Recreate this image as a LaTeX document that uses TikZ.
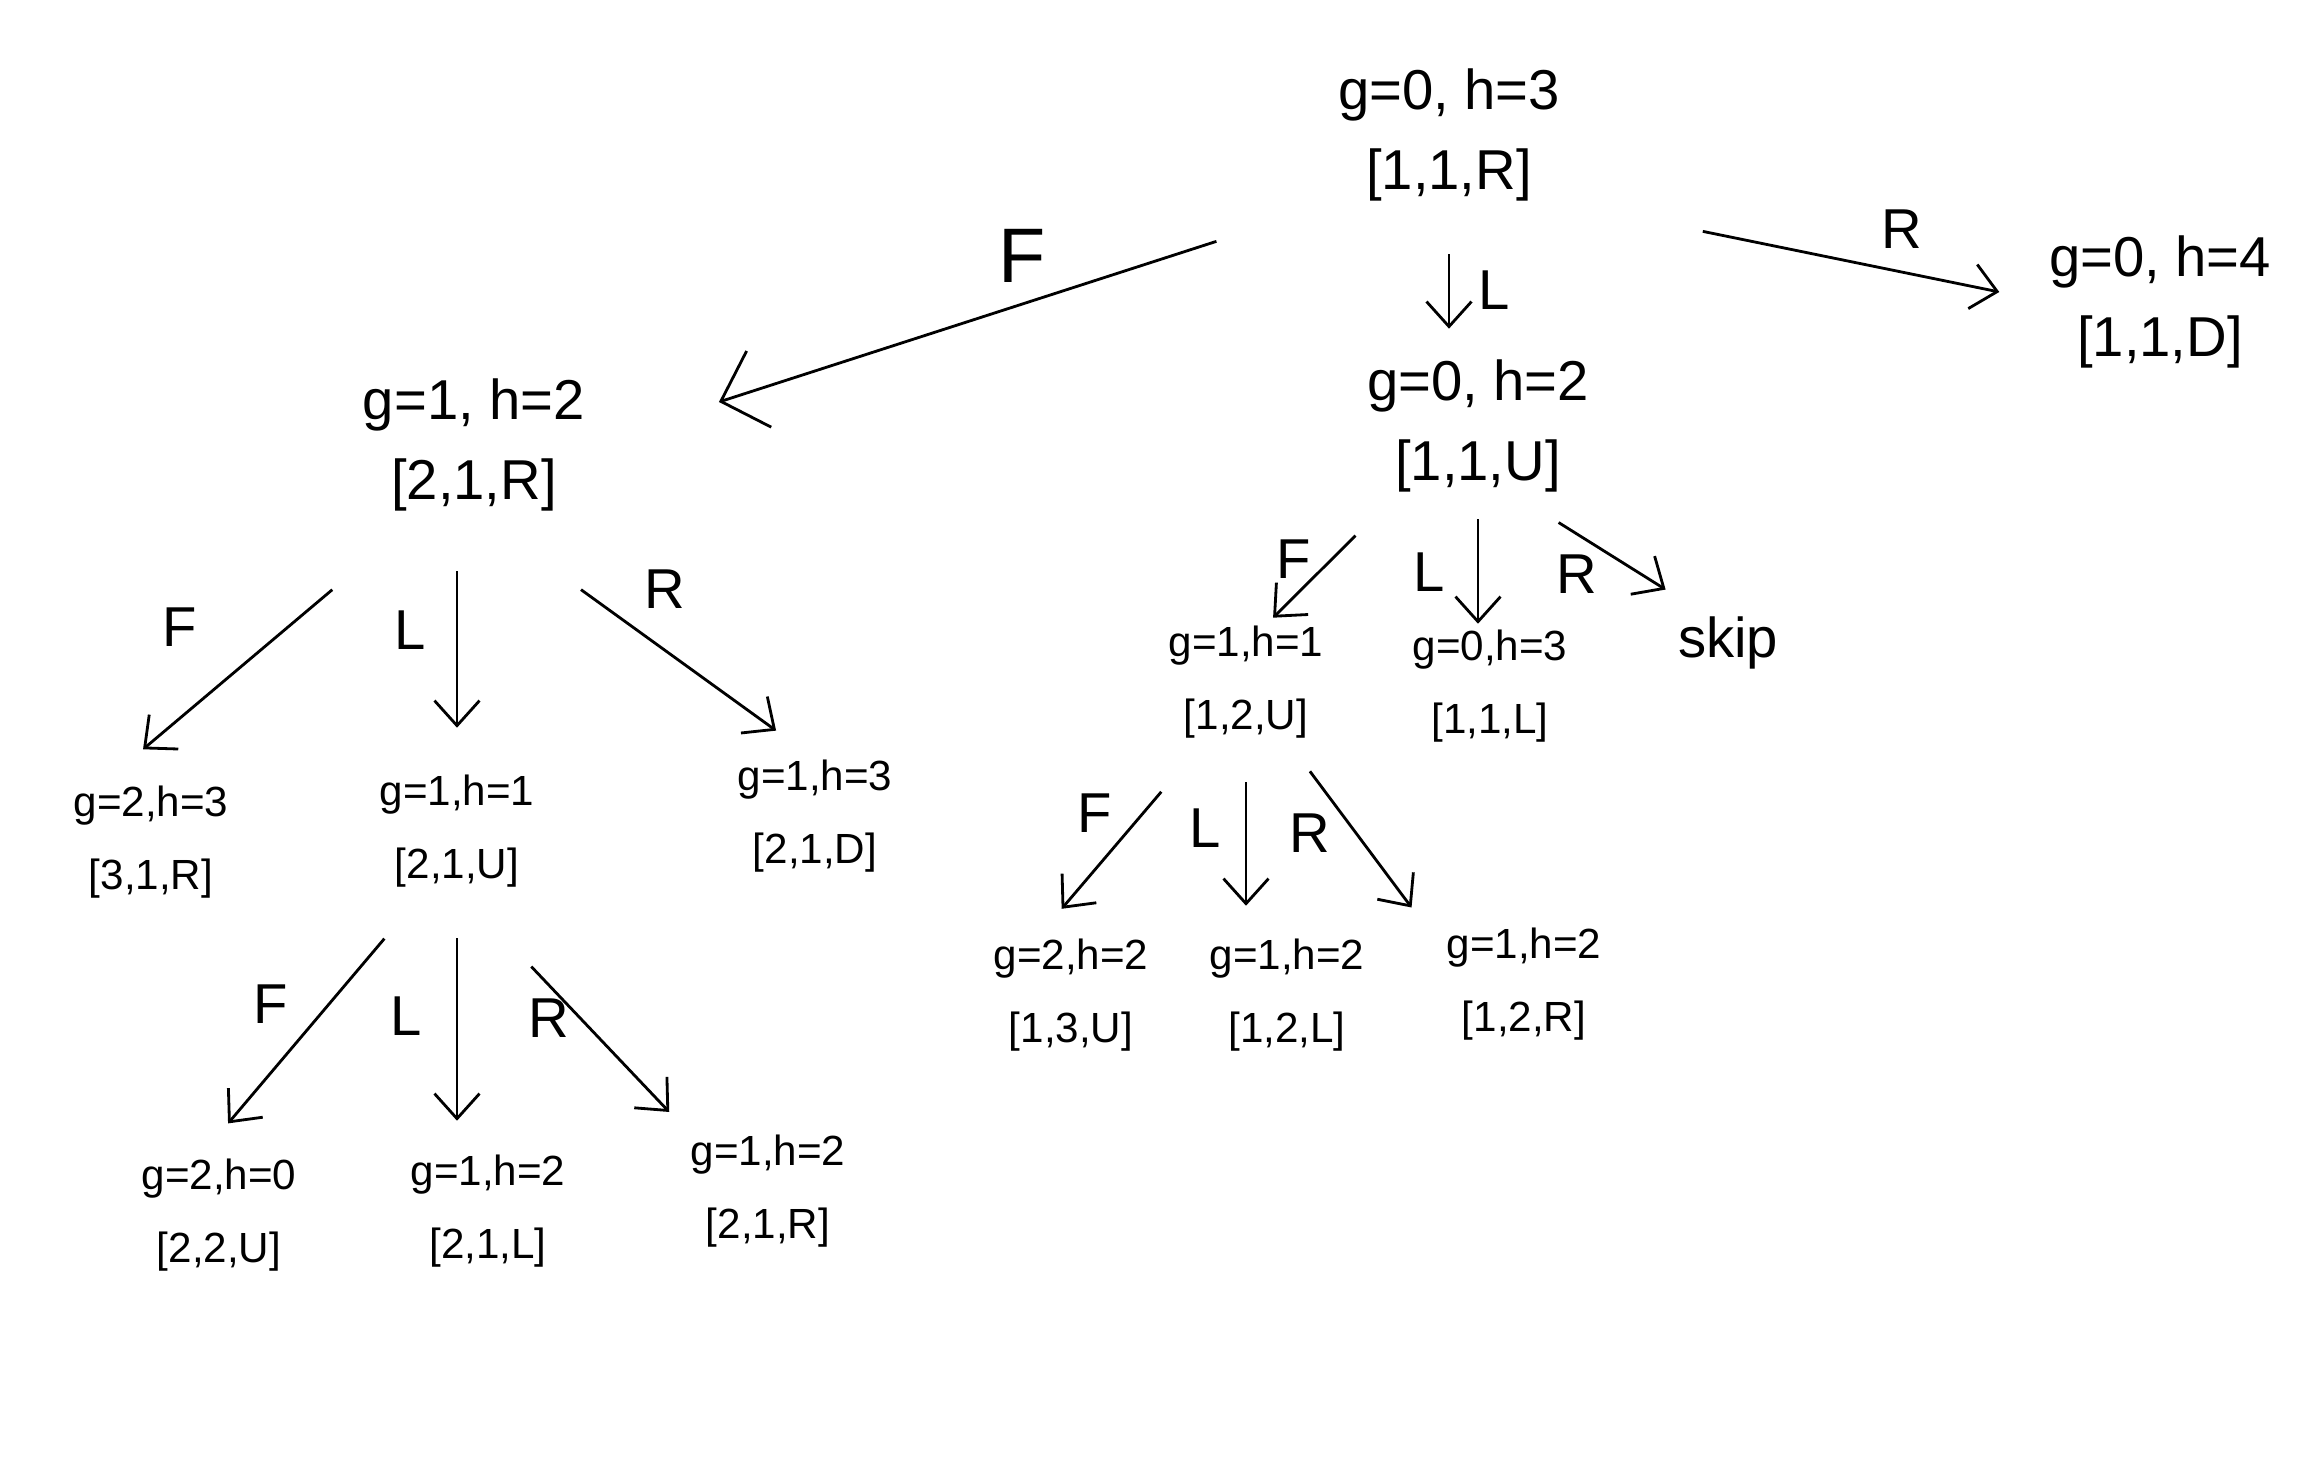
\documentclass[tikz,border=0pt]{standalone}
\usepackage{fontspec}
\setmainfont{Liberation Sans}
\usepackage{tikz}
\usetikzlibrary{positioning}
\usetikzlibrary{arrows.meta}

\begin{document}
\begin{tikzpicture}[
        every node/.style={inner sep=0pt},
        state/.style={align=center, font=\fontsize{16}{23}\selectfont},
        leaf/.style={align=center, font=\fontsize{12}{21}\selectfont},
        lbl/.style={font=\fontsize{16}{16}\selectfont},
        edge/.style={-{Straight Barb[length=2.5mm,width=4.5mm]}, line width=0.8pt}]
        \useasboundingbox (0,0) rectangle (23.06,-14.84);

        % start and its three moves
        \node[state] (root) at (14.49,-1.35) {g=0, h=3\\{}[1,1,R]};
        \node[state] (rootR) at (21.60,-3.02) {g=0, h=4\\{}[1,1,D]};
        \node[state] (rootL) at (14.78,-4.26) {g=0, h=2\\{}[1,1,U]};
        \node[state] (rootF) at (4.74,-4.45) {g=1, h=2\\{}[2,1,R]};

        % below the forward move
        \node[leaf] (fF) at (1.51,-8.42) {g=2,h=3\\{}[3,1,R]};
        \node[leaf] (fL) at (4.57,-8.31) {g=1,h=1\\{}[2,1,U]};
        \node[leaf] (fR) at (8.15,-8.16) {g=1,h=3\\{}[2,1,D]};
        \node[leaf] (fLF) at (2.19,-12.15) {g=2,h=0\\{}[2,2,U]};
        \node[leaf] (fLL) at (4.88,-12.11) {g=1,h=2\\{}[2,1,L]};
        \node[leaf] (fLR) at (7.68,-11.91) {g=1,h=2\\{}[2,1,R]};

        % below the left turn
        \node[leaf] (lF) at (12.46,-6.82) {g=1,h=1\\{}[1,2,U]};
        \node[leaf] (lL) at (14.90,-6.86) {g=0,h=3\\{}[1,1,L]};
        \node[state] (lR) at (17.28,-6.43) {skip};
        \node[leaf] (lFF) at (10.71,-9.95) {g=2,h=2\\{}[1,3,U]};
        \node[leaf] (lFL) at (12.87,-9.95) {g=1,h=2\\{}[1,2,L]};
        \node[leaf] (lFR) at (15.24,-9.84) {g=1,h=2\\{}[1,2,R]};

        \draw[edge, -{Straight Barb[length=4mm,width=8mm]}, shorten <=1.27cm, shorten >=1.4cm] (root.south west) --
            node[lbl, font=\fontsize{22}{22}\selectfont, pos=.42, above=2mm] {F} (rootF.east);
        \draw[edge, shorten <=0.52cm, shorten >=0.3cm] (root.south) --
            node[lbl, pos=.56, right=2.8mm] {L} (root.south |- rootL.north);
        \draw[edge, shorten <=1.45cm, shorten >=0.5cm] (root.south east) --
            node[lbl, pos=.7, above=2.2mm] {R} (rootR.west);

        \draw[edge, shorten <=0.6cm, shorten >=0.1cm] ([xshift=-8mm]rootL.south) --
            node[lbl, pos=.5, left=2mm] {F} ([xshift=2mm]lF.north);
        \draw[edge, shorten <=0.26cm, shorten >=0.05cm] (rootL.south) --
            node[lbl, pos=.58, left=3.2mm] {L} (rootL.south |- lL.north);
        \draw[edge, shorten <=0.55cm, shorten >=0.5cm] ([xshift=3.4mm]rootL.south) --
            node[lbl, pos=.33, below=2mm] {R} ([xshift=-2mm]lR.north);

        \draw[edge, shorten <=1.2cm, shorten >=0.55cm] ([xshift=-5mm]rootF.south) --
            node[lbl, pos=.42, left=9mm] {F} ([xshift=-5mm]fF.north);
        \draw[edge, shorten <=0.59cm, shorten >=0.46cm] (rootF.south -| fL) --
            node[lbl, pos=.45, left=3mm] {L} (fL);
        \draw[edge, shorten <=1.32cm, shorten >=0.48cm] (rootF.south) --
            node[lbl, pos=.56, above=4mm] {R} (fR.north);

        \draw[edge, shorten <=0.66cm, shorten >=0.45cm] ([xshift=-3mm]fL.south) --
            node[lbl, pos=.43, left=4mm] {F} ([xshift=-2mm]fLF.north);
        \draw[edge, shorten <=0.5cm, shorten >=0.33cm] (fL.south) --
            node[lbl, pos=.48, left=3.4mm] {L} (fL.south |- fLL.north);
        \draw[edge, shorten <=1.08cm, shorten >=0.3cm] (fL.south) --
            node[lbl, pos=.53, left=1mm] {R} (fLR.north west);

        \draw[edge, shorten <=0.69cm, shorten >=0.38cm] ([xshift=-4mm]lF.south) --
            node[lbl, pos=.37, left=3mm] {F} ([xshift=-3.4mm]lFF.north);
        \draw[edge, shorten <=0.43cm, shorten >=0.32cm] (lF.south) --
            node[lbl, pos=.45, left=2.4mm] {L} (lF.south |- lFL.north);
        \draw[edge, shorten <=0.4cm, shorten >=0.24cm] ([xshift=4mm]lF.south) --
            node[lbl, pos=.5, left=2.4mm] {R} ([xshift=-2mm]lFR.north west);

    \end{tikzpicture}
\end{document}
